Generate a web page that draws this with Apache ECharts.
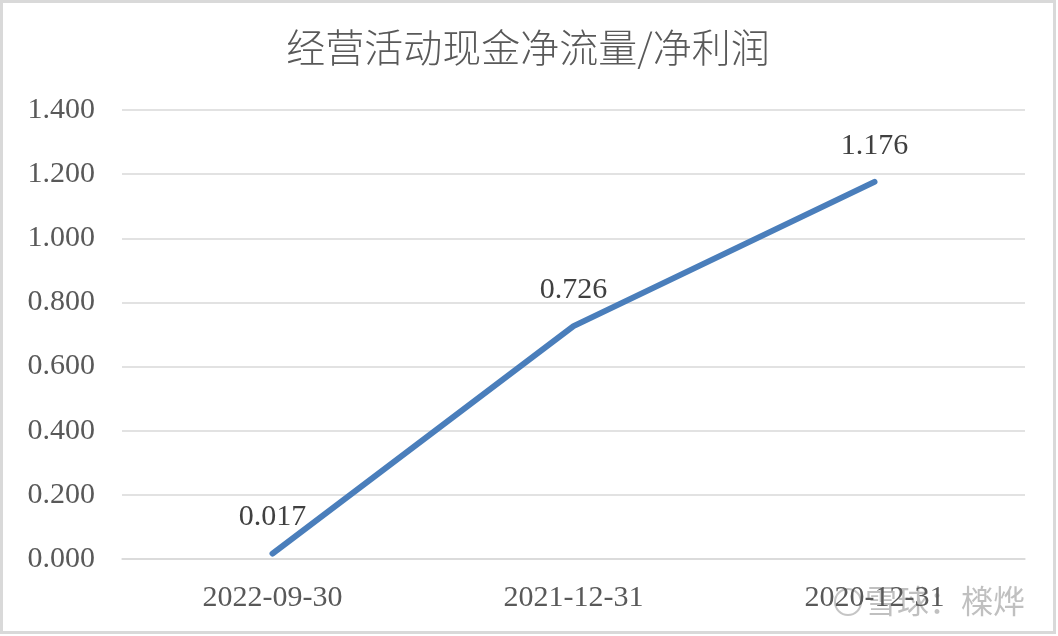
<!DOCTYPE html>
<html><head><meta charset="utf-8">
<script src="https://cdn.jsdelivr.net/npm/echarts@6/dist/echarts.min.js"></script>
<style>
html,body{margin:0;padding:0;background:#fff;}
#frame{position:absolute;left:0;top:0;width:1050px;height:628px;border:3px solid #d9d9d9;background:#fff;}
#chart{position:absolute;left:0;top:0;width:1050px;height:628px;}
</style></head>
<body>
<div id="frame"><div id="chart"></div></div>
<script>
var titleText = '经营活动现金净流量/净利润';
var categories = ['2022-09-30', '2021-12-31', '2020-12-31'];
var values = [0.017, 0.726, 1.176];
var yTicks = { min: 0, max: 1.4, interval: 0.2 };
var watermark = '雪球：檪烨';

var chart = echarts.init(document.getElementById('chart'));
chart.setOption({
  animation: false,
  backgroundColor: '#fff',
  title: {
    text: titleText, left: 'center', top: 20,
    textStyle: { fontFamily: 'Noto Sans CJK SC', fontWeight: 300, fontSize: 39, color: '#595959' }
  },
  grid: { left: 119, right: 28, top: 107, bottom: 72 },
  xAxis: {
    type: 'category', data: categories, boundaryGap: true,
    axisLine: { show: true, lineStyle: { color: '#d9d9d9', width: 1.5 } },
    axisTick: { show: false },
    axisLabel: { margin: 24, fontFamily: 'Liberation Serif', fontSize: 30, color: '#595959' }
  },
  yAxis: {
    type: 'value', min: yTicks.min, max: yTicks.max, interval: yTicks.interval,
    axisLine: { show: false }, axisTick: { show: false },
    splitLine: { lineStyle: { color: '#d9d9d9', width: 1.5 } },
    axisLabel: { margin: 27, fontFamily: 'Liberation Serif', fontSize: 30, color: '#595959',
      formatter: function (v) { return v.toFixed(3); } }
  },
  series: [{
    type: 'line', data: values, symbol: 'circle', symbolSize: 2, showSymbol: true,
    itemStyle: { color: 'rgba(74,126,187,0)', borderWidth: 0 },
    lineStyle: { color: '#4a7ebb', width: 6, cap: 'round', join: 'round' },
    label: { show: true, position: 'top', distance: 20, fontFamily: 'Liberation Serif', fontSize: 30, color: '#404040',
      formatter: function (p) { return p.value.toFixed(3); } }
  }],
  graphic: [{
    type: 'circle', shape: { cx: 845, cy: 599, r: 13 },
    style: { fill: 'none', stroke: 'rgba(140,140,140,0.5)', lineWidth: 2 }
  }, {
    type: 'text', right: 28, bottom: 14,
    style: { text: watermark, fontFamily: 'Noto Sans CJK SC', fontSize: 32, fill: 'rgba(140,140,140,0.55)' }
  }]
});
</script>
</body></html>
